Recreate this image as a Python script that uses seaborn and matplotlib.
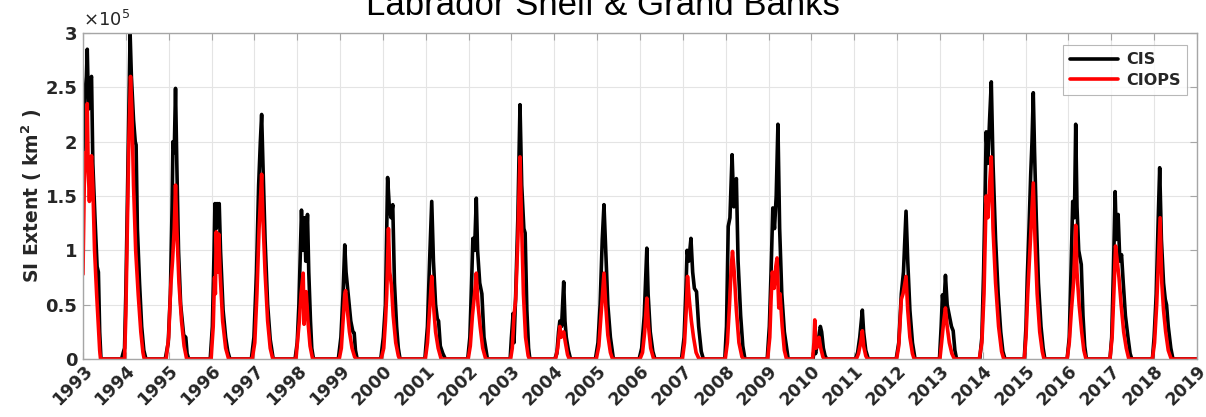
import numpy as np
import pandas as pd
import seaborn as sns
import matplotlib.pyplot as plt
import matplotlib.transforms as mtransforms
from matplotlib.ticker import FixedLocator

# Sea-ice extent (units of 1e5 km^2), vertices: (decimal year, value)
cis_points = [
    (1993.00, 1.88), (1993.04, 2.40), (1993.08, 2.60), (1993.10, 2.85), (1993.13, 2.30), (1993.16, 2.55),
    (1993.20, 2.60), (1993.23, 1.80), (1993.28, 1.30), (1993.33, 0.85), (1993.36, 0.80), (1993.39, 0.25), (1993.42, 0.0),
    (1993.90, 0.0), (1993.94, 0.06), (1993.97, 0.10), (1994.00, 0.60), (1994.03, 1.30), (1994.07, 2.30), (1994.10, 3.00),
    (1994.13, 2.60), (1994.18, 2.20), (1994.22, 2.00), (1994.24, 1.97), (1994.27, 1.20), (1994.32, 0.70), (1994.37, 0.30),
    (1994.42, 0.08), (1994.47, 0.0),
    (1994.92, 0.0), (1994.99, 0.15), (1995.04, 0.60), (1995.08, 1.40), (1995.10, 2.00), (1995.13, 1.90), (1995.16, 2.49),
    (1995.19, 1.80), (1995.23, 1.00), (1995.28, 0.50), (1995.35, 0.22), (1995.40, 0.20), (1995.43, 0.05), (1995.47, 0.0),
    (1995.97, 0.0), (1996.02, 0.30), (1996.06, 1.00), (1996.08, 1.43), (1996.11, 1.20), (1996.13, 1.43), (1996.16, 1.30),
    (1996.18, 1.43), (1996.21, 1.00), (1996.27, 0.45), (1996.33, 0.20), (1996.38, 0.07), (1996.43, 0.0),
    (1996.93, 0.0), (1996.99, 0.20), (1997.05, 0.80), (1997.10, 1.60), (1997.14, 2.00), (1997.17, 2.25), (1997.20, 1.80),
    (1997.25, 1.10), (1997.31, 0.50), (1997.37, 0.18), (1997.44, 0.0),
    (1997.95, 0.0), (1998.00, 0.15), (1998.04, 0.50), (1998.08, 1.10), (1998.10, 1.37), (1998.13, 1.00), (1998.17, 1.30),
    (1998.20, 0.90), (1998.24, 1.33), (1998.27, 0.80), (1998.31, 0.35), (1998.34, 0.10), (1998.38, 0.0),
    (1998.96, 0.0), (1999.02, 0.20), (1999.07, 0.60), (1999.11, 1.05), (1999.14, 0.80), (1999.19, 0.60), (1999.25, 0.35),
    (1999.30, 0.25), (1999.33, 0.24), (1999.36, 0.08), (1999.40, 0.0),
    (1999.95, 0.0), (2000.01, 0.20), (2000.06, 0.50), (2000.09, 1.20), (2000.11, 1.67), (2000.15, 1.40), (2000.19, 1.30),
    (2000.23, 1.42), (2000.27, 0.70), (2000.32, 0.30), (2000.36, 0.10), (2000.40, 0.0),
    (2000.98, 0.0), (2001.04, 0.30), (2001.09, 0.90), (2001.14, 1.45), (2001.18, 0.90), (2001.23, 0.50), (2001.27, 0.37),
    (2001.30, 0.35), (2001.34, 0.12), (2001.40, 0.05), (2001.46, 0.0),
    (2001.98, 0.0), (2002.03, 0.20), (2002.07, 0.70), (2002.10, 1.11), (2002.14, 1.00), (2002.18, 1.48), (2002.21, 1.00),
    (2002.26, 0.70), (2002.31, 0.60), (2002.36, 0.20), (2002.44, 0.0),
    (2002.97, 0.0), (2003.00, 0.20), (2003.04, 0.42), (2003.06, 0.15), (2003.10, 0.60), (2003.15, 1.30), (2003.20, 2.34),
    (2003.24, 1.60), (2003.29, 1.20), (2003.32, 1.16), (2003.36, 0.45), (2003.40, 0.10), (2003.43, 0.0),
    (2004.01, 0.0), (2004.06, 0.05), (2004.10, 0.25), (2004.13, 0.35), (2004.17, 0.30), (2004.22, 0.71), (2004.25, 0.35),
    (2004.28, 0.20), (2004.33, 0.08), (2004.38, 0.0),
    (2004.96, 0.0), (2005.02, 0.15), (2005.07, 0.50), (2005.12, 1.10), (2005.16, 1.42), (2005.20, 1.00), (2005.25, 0.50),
    (2005.31, 0.20), (2005.38, 0.0),
    (2005.98, 0.0), (2006.04, 0.10), (2006.10, 0.40), (2006.16, 1.02), (2006.19, 0.60), (2006.24, 0.25), (2006.30, 0.07),
    (2006.35, 0.0),
    (2006.97, 0.0), (2007.03, 0.20), (2007.07, 0.60), (2007.10, 1.00), (2007.14, 0.90), (2007.19, 1.11), (2007.23, 0.80),
    (2007.27, 0.65), (2007.32, 0.62), (2007.37, 0.30), (2007.43, 0.07), (2007.48, 0.0),
    (2007.98, 0.0), (2008.02, 0.30), (2008.06, 1.22), (2008.10, 1.30), (2008.15, 1.88), (2008.19, 1.40), (2008.25, 1.66),
    (2008.29, 0.90), (2008.35, 0.40), (2008.40, 0.12), (2008.45, 0.0),
    (2008.97, 0.0), (2009.02, 0.30), (2009.06, 0.80), (2009.10, 1.39), (2009.14, 1.20), (2009.18, 1.50), (2009.22, 2.16),
    (2009.26, 1.20), (2009.31, 0.60), (2009.37, 0.25), (2009.46, 0.0),
    (2010.04, 0.0), (2010.07, 0.10), (2010.10, 0.05), (2010.14, 0.15), (2010.18, 0.22), (2010.21, 0.30), (2010.24, 0.25),
    (2010.28, 0.10), (2010.32, 0.03), (2010.36, 0.0),
    (2011.03, 0.0), (2011.08, 0.06), (2011.13, 0.20), (2011.19, 0.45), (2011.22, 0.25), (2011.27, 0.08), (2011.33, 0.0),
    (2011.98, 0.0), (2012.04, 0.15), (2012.10, 0.60), (2012.15, 0.80), (2012.21, 1.36), (2012.25, 0.90), (2012.30, 0.45),
    (2012.36, 0.15), (2012.42, 0.0),
    (2012.99, 0.0), (2013.03, 0.30), (2013.06, 0.59), (2013.09, 0.45), (2013.13, 0.77), (2013.17, 0.50), (2013.22, 0.40),
    (2013.27, 0.30), (2013.31, 0.26), (2013.35, 0.08), (2013.39, 0.0),
    (2013.93, 0.0), (2013.98, 0.20), (2014.02, 0.80), (2014.06, 1.60), (2014.08, 2.09), (2014.12, 1.80), (2014.16, 2.20),
    (2014.20, 2.55), (2014.24, 1.80), (2014.30, 1.10), (2014.36, 0.60), (2014.42, 0.25), (2014.47, 0.07), (2014.52, 0.0),
    (2014.97, 0.0), (2015.01, 0.30), (2015.04, 0.75), (2015.08, 1.20), (2015.12, 1.70), (2015.15, 2.00), (2015.18, 2.45),
    (2015.21, 1.90), (2015.25, 1.30), (2015.30, 0.70), (2015.36, 0.30), (2015.41, 0.10), (2015.45, 0.0),
    (2015.97, 0.0), (2016.02, 0.20), (2016.06, 0.80), (2016.10, 1.45), (2016.14, 1.30), (2016.17, 2.16), (2016.20, 1.40),
    (2016.24, 1.00), (2016.30, 0.87), (2016.34, 0.40), (2016.38, 0.12), (2016.42, 0.0),
    (2016.97, 0.0), (2017.01, 0.20), (2017.05, 0.80), (2017.09, 1.54), (2017.12, 1.10), (2017.16, 1.33), (2017.20, 0.90),
    (2017.24, 0.96), (2017.28, 0.70), (2017.33, 0.40), (2017.39, 0.20), (2017.44, 0.05), (2017.48, 0.0),
    (2017.96, 0.0), (2018.00, 0.20), (2018.05, 0.60), (2018.09, 1.20), (2018.13, 1.76), (2018.17, 1.10), (2018.22, 0.70),
    (2018.26, 0.55), (2018.29, 0.50), (2018.33, 0.30), (2018.39, 0.10), (2018.44, 0.0),
    (2019.00, 0.0),
]

ciops_points = [
    (1993.00, 0.78), (1993.03, 1.60), (1993.06, 1.90), (1993.08, 1.75), (1993.10, 2.35), (1993.12, 1.80), (1993.15, 1.45),
    (1993.17, 1.70), (1993.20, 1.87), (1993.23, 1.60), (1993.27, 1.00), (1993.32, 0.59), (1993.36, 0.30), (1993.39, 0.08),
    (1993.41, 0.0),
    (1993.97, 0.0), (1994.00, 0.40), (1994.03, 1.10), (1994.07, 2.00), (1994.11, 2.60), (1994.14, 2.30), (1994.18, 1.60),
    (1994.23, 1.00), (1994.29, 0.59), (1994.35, 0.25), (1994.40, 0.06), (1994.43, 0.0),
    (1994.94, 0.0), (1995.00, 0.20), (1995.05, 0.68), (1995.09, 0.90), (1995.13, 1.20), (1995.16, 1.60), (1995.19, 1.20),
    (1995.24, 0.70), (1995.30, 0.35), (1995.36, 0.12), (1995.42, 0.0),
    (1995.99, 0.0), (1996.04, 0.30), (1996.07, 0.75), (1996.09, 0.60), (1996.11, 1.17), (1996.14, 0.80), (1996.17, 1.15),
    (1996.20, 0.80), (1996.26, 0.35), (1996.33, 0.10), (1996.40, 0.0),
    (1996.95, 0.0), (1997.01, 0.15), (1997.06, 0.60), (1997.11, 1.20), (1997.17, 1.70), (1997.20, 1.30), (1997.25, 0.80),
    (1997.31, 0.35), (1997.37, 0.10), (1997.43, 0.0),
    (1997.97, 0.0), (1998.01, 0.17), (1998.05, 0.35), (1998.09, 0.60), (1998.14, 0.79), (1998.16, 0.32), (1998.19, 0.55),
    (1998.21, 0.62), (1998.25, 0.35), (1998.30, 0.12), (1998.36, 0.0),
    (1998.98, 0.0), (1999.03, 0.10), (1999.07, 0.35), (1999.11, 0.60), (1999.13, 0.63), (1999.17, 0.45), (1999.22, 0.25),
    (1999.28, 0.10), (1999.34, 0.02), (1999.38, 0.0),
    (1999.96, 0.0), (2000.02, 0.10), (2000.06, 0.35), (2000.09, 0.60), (2000.13, 1.20), (2000.16, 0.80), (2000.20, 0.68),
    (2000.24, 0.40), (2000.30, 0.15), (2000.36, 0.03), (2000.39, 0.0),
    (2000.99, 0.0), (2001.04, 0.15), (2001.09, 0.45), (2001.14, 0.76), (2001.18, 0.50), (2001.23, 0.25), (2001.29, 0.10),
    (2001.36, 0.0),
    (2001.99, 0.0), (2002.04, 0.12), (2002.09, 0.40), (2002.14, 0.60), (2002.18, 0.79), (2002.22, 0.50), (2002.27, 0.30),
    (2002.33, 0.10), (2002.40, 0.0),
    (2002.98, 0.0), (2003.02, 0.10), (2003.06, 0.40), (2003.10, 0.55), (2003.15, 1.10), (2003.20, 1.86), (2003.24, 1.20),
    (2003.28, 0.60), (2003.33, 0.20), (2003.39, 0.03), (2003.42, 0.0),
    (2004.03, 0.0), (2004.08, 0.10), (2004.13, 0.30), (2004.16, 0.20), (2004.19, 0.22), (2004.22, 0.25), (2004.26, 0.15),
    (2004.31, 0.04), (2004.35, 0.0),
    (2004.98, 0.0), (2005.04, 0.12), (2005.09, 0.40), (2005.16, 0.79), (2005.20, 0.50), (2005.25, 0.22), (2005.31, 0.06),
    (2005.36, 0.0),
    (2006.00, 0.0), (2006.06, 0.06), (2006.11, 0.25), (2006.16, 0.56), (2006.20, 0.30), (2006.25, 0.10), (2006.32, 0.0),
    (2006.99, 0.0), (2007.04, 0.15), (2007.08, 0.45), (2007.11, 0.76), (2007.15, 0.55), (2007.20, 0.35), (2007.25, 0.20),
    (2007.31, 0.06), (2007.38, 0.0),
    (2007.99, 0.0), (2008.04, 0.15), (2008.09, 0.50), (2008.13, 0.85), (2008.16, 0.99), (2008.20, 0.80), (2008.25, 0.45),
    (2008.31, 0.15), (2008.38, 0.02), (2008.42, 0.0),
    (2008.98, 0.0), (2009.03, 0.20), (2009.06, 0.55), (2009.09, 0.80), (2009.13, 0.65), (2009.17, 0.85), (2009.20, 0.93),
    (2009.24, 0.47), (2009.27, 0.60), (2009.32, 0.30), (2009.37, 0.08), (2009.42, 0.0),
    (2010.03, 0.0), (2010.06, 0.15), (2010.08, 0.36), (2010.11, 0.10), (2010.15, 0.12), (2010.18, 0.20), (2010.22, 0.10),
    (2010.27, 0.02), (2010.30, 0.0),
    (2011.05, 0.0), (2011.10, 0.05), (2011.15, 0.15), (2011.19, 0.26), (2011.22, 0.12), (2011.27, 0.03), (2011.31, 0.0),
    (2011.99, 0.0), (2012.04, 0.12), (2012.10, 0.55), (2012.14, 0.60), (2012.21, 0.76), (2012.25, 0.45), (2012.30, 0.20),
    (2012.36, 0.05), (2012.40, 0.0),
    (2013.00, 0.0), (2013.04, 0.15), (2013.09, 0.35), (2013.13, 0.47), (2013.17, 0.30), (2013.22, 0.15), (2013.28, 0.05),
    (2013.34, 0.0),
    (2013.92, 0.0), (2013.98, 0.15), (2014.03, 0.60), (2014.08, 1.50), (2014.12, 1.30), (2014.16, 1.60), (2014.20, 1.86),
    (2014.24, 1.20), (2014.30, 0.70), (2014.37, 0.30), (2014.44, 0.07), (2014.49, 0.0),
    (2014.97, 0.0), (2015.01, 0.20), (2015.05, 0.60), (2015.10, 1.00), (2015.14, 1.30), (2015.18, 1.62), (2015.22, 1.10),
    (2015.27, 0.60), (2015.33, 0.25), (2015.39, 0.07), (2015.43, 0.0),
    (2015.97, 0.0), (2016.02, 0.15), (2016.07, 0.45), (2016.12, 0.70), (2016.17, 1.23), (2016.20, 0.80), (2016.25, 0.50),
    (2016.31, 0.25), (2016.36, 0.08), (2016.41, 0.0),
    (2016.97, 0.0), (2017.02, 0.20), (2017.06, 0.60), (2017.10, 1.04), (2017.14, 0.90), (2017.18, 0.75), (2017.23, 0.50),
    (2017.29, 0.25), (2017.35, 0.10), (2017.41, 0.0),
    (2017.96, 0.0), (2018.01, 0.15), (2018.06, 0.50), (2018.10, 0.90), (2018.14, 1.30), (2018.18, 0.70), (2018.22, 0.45),
    (2018.27, 0.25), (2018.33, 0.08), (2018.40, 0.0),
    (2019.00, 0.0),
]

years = list(range(1993, 2020))
y_ticks = [0, 0.5, 1, 1.5, 2, 2.5, 3]

# long-form table for seaborn
frames = []
for name, pts in [("CIS", cis_points), ("CIOPS", ciops_points)]:
    t, v = zip(*pts)
    frames.append(pd.DataFrame({"time": t, "extent": v, "source": name}))
df = pd.concat(frames, ignore_index=True)

sns.set_style("white")
plt.rcParams['font.family'] = ['DejaVu Sans']

fig = plt.figure(figsize=(12.06, 4.17), dpi=100)
ax = fig.add_axes([0.0688, 0.139, 0.9237, 0.782])

sns.lineplot(data=df, x="time", y="extent", hue="source", palette={"CIS": "black", "CIOPS": "#ff0000"},
             estimator=None, sort=True, linewidth=2.6, ax=ax)

ax.set_xlim(1993, 2019)
ax.set_ylim(0, 3)
ax.xaxis.set_major_locator(FixedLocator(years))
ax.yaxis.set_major_locator(FixedLocator(y_ticks))
ax.set_xticklabels([str(y) for y in years], rotation=45, ha='right', rotation_mode='anchor',
                   fontweight='bold', fontsize=12.5, color='#262626')
ax.set_yticklabels(['%g' % y for y in y_ticks], fontweight='bold', fontsize=13, color='#262626')

# nudge the rotated year labels a little to the left so 2019 stays inside
shift = mtransforms.ScaledTranslation(-6 / 100, 0, fig.dpi_scale_trans)
for lbl in ax.get_xticklabels():
    lbl.set_transform(lbl.get_transform() + shift)

ax.grid(True, color='#e4e4e4', linewidth=0.8)
ax.set_axisbelow(True)
for s in ax.spines.values():
    s.set_color('#a6a6a6')
    s.set_linewidth(1.0)
ax.tick_params(direction='in', length=5, color='#a6a6a6', top=True, right=True, bottom=True, left=True,
               pad=4)
ax.tick_params(axis='x', pad=2)

ax.set_xlabel('')
ax.set_ylabel('SI Extent ( km$^\\mathbf{2}$ )', fontweight='bold', fontsize=13.5, color='#262626', labelpad=1)

ax.text(0.0, 1.01, r'$\times10^{5}$', transform=ax.transAxes, fontsize=13, color='#262626',
        ha='left', va='bottom')

fig.text(0.5, 0.964, 'Labrador Shelf & Grand Banks', family='Liberation Sans', fontsize=25,
         ha='center', va='baseline', color='black')

leg = ax.legend(loc='upper right', bbox_to_anchor=(0.9915, 0.963), borderaxespad=0, frameon=True,
                fancybox=False, edgecolor='#a6a6a6', handlelength=3.0, handletextpad=0.5, borderpad=0.45,
                labelspacing=0.35, prop={'weight': 'bold', 'size': 11.5})
leg.get_frame().set_linewidth(0.8)
leg.set_title(None)

fig.savefig('out.png', dpi=100)
